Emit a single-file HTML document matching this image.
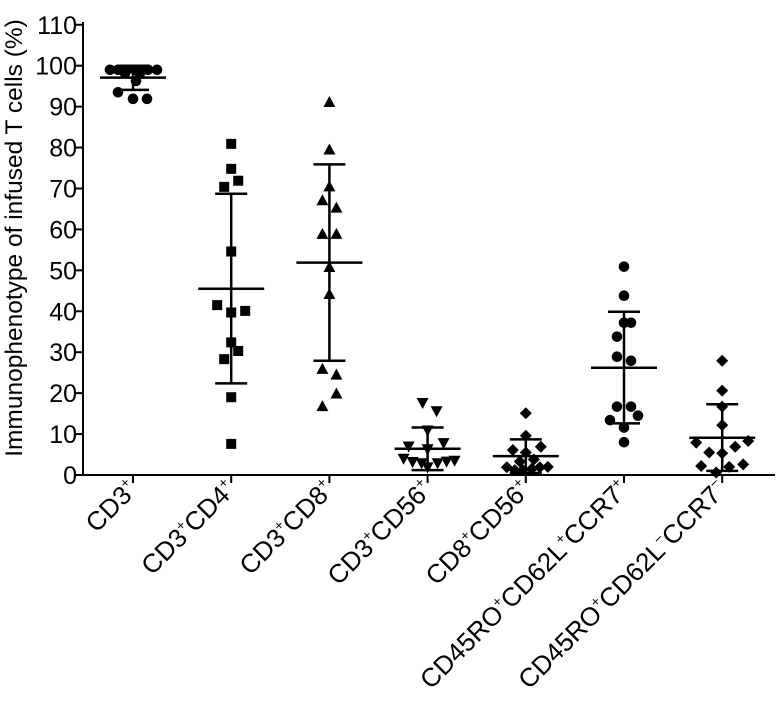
<!DOCTYPE html>
<html><head><meta charset="utf-8"><style>
body{margin:0;background:#fff}
svg text{font-family:"Liberation Sans",sans-serif;fill:#000}
</style></head><body>
<svg id="c" width="779" height="718" xmlns="http://www.w3.org/2000/svg"></svg>
<script>
const categories=["CD3","CD3CD4","CD3CD8","CD3CD56","CD8CD56","CD45RO+CD62L+CCR7+","CD45RO+CD62L-CCR7-"];
const yTicks=[0,10,20,30,40,50,60,70,80,90,100,110];
const s0=[99,99,99,99,99,99,99,98.2,98.2,96.3,93.5,91.9,91.9];
const j0=[-23,-15,-6,2,9,15,24,-8,7,3,-15,0,14];
const s1=[80.9,74.8,71.9,70.4,54.6,41.5,39.7,40.1,32.4,30.3,28.3,19,7.6];
const j1=[0,0,7,-7,0,-14,0,14,0,7,-7,0,0];
const s2=[91,79.4,70.4,67,65.2,58.8,58.8,50.7,44.1,25.8,24.4,19.8,16.7];
const j2=[0,0,0,-7,7,-7,7,0,0,-7,7,7,-7];
const s3=[17.7,15.7,11,7.1,7.9,6.4,4.1,3.3,3,2,3,3.4,3.6];
const j3=[-5,9,0,-19,16,0,-24,-15,-6,0,10,19,27];
const s4=[15.1,9.6,6.1,6.9,5.5,3.3,3.8,1.9,1.2,1.2,1.5,1.9,2.0];
const j4=[0,0,-13,15,0,-6,8,-19,-11,-3,6,14,22];
const s5=[50.9,43.8,37.2,37.2,33.8,28.9,27.9,16.7,16.7,13.4,14.5,11.6,8.0];
const j5=[0,0,0,7,-7,-7,7,-7,7,-14,14,0,0];
const s6=[27.9,20.6,16.7,12.2,7.9,8.3,5.5,5.3,6.9,2.2,2.0,2.6,0.6];
const j6=[0,0,0,0,-26,26,-13,0,13,-21,7,21,-6];
const means=[97.1,45.5,51.9,6.4,4.6,26.2,9.1];
const upper=[100,68.7,75.9,11.6,8.7,39.9,17.3];
const lower=[94.1,22.4,27.9,1.2,0.5,12.6,1.0];
const series=[s0,s1,s2,s3,s4,s5,s6], jit=[j0,j1,j2,j3,j4,j5,j6];
const shapes=["circle","square","tri","dtri","diamond","circle","diamond"];
const labels=[["CD3","+"],["CD3","+","CD4","+"],["CD3","+","CD8","+"],["CD3","+","CD56","+"],["CD8","+","CD56","+"],["CD45RO","+","CD62L","+","CCR7","+"],["CD45RO","+","CD62L","\u2212","CCR7","\u2212"]];
const X0=83,Y0=475,YS=4.093;
const y=v=>Y0-v*YS, x=i=>133+i*98.2;
const svg=document.getElementById('c'),NS="http://www.w3.org/2000/svg";
function mk(t,a,p){const e=document.createElementNS(NS,t);for(const k in a)e.setAttribute(k,a[k]);(p||svg).appendChild(e);return e;}
let e;
e=mk('line',{x1:X0,y1:22,x2:X0,y2:Y0+1,stroke:'#000','stroke-width':2});


e=mk('line',{x1:X0-1,y1:Y0,x2:775,y2:Y0,stroke:'#000','stroke-width':2});


yTicks.forEach(v=>{
 mk('line',{x1:X0-8,y1:y(v),x2:X0,y2:y(v),stroke:'#000','stroke-width':2});
 e=mk('text',{x:X0-6,y:y(v)+9,'text-anchor':'end','font-size':25});e.textContent=v;
 
 
});
e=mk('text',{transform:'translate(22,238) rotate(-90)','text-anchor':'middle','font-size':24.5});
e.textContent='Immunophenotype of infused T cells (%)';


categories.forEach((c,i)=>{
 const cx=x(i);
 mk('line',{x1:cx,y1:Y0,x2:cx,y2:Y0+8,stroke:'#000','stroke-width':2});
 const t=mk('text',{transform:`translate(${cx+6},${Y0+16}) rotate(-45)`,'text-anchor':'end','font-size':26});
 
 
 const parts=labels[i];
 parts.forEach((p,k)=>{const ts=mk('tspan',{},t);
  if(k%2===1){ts.setAttribute('font-size',14);ts.setAttribute('dy',-11);}else if(k>0){ts.setAttribute('dy',11);}
  ts.textContent=p;});
 const g=mk('g',{});
 
 
 mk('line',{x1:cx,y1:y(upper[i]),x2:cx,y2:y(lower[i]),stroke:'#000','stroke-width':2.5},g);
 mk('line',{x1:cx-33,y1:y(means[i]),x2:cx+33,y2:y(means[i]),stroke:'#000','stroke-width':2.5},g);
 mk('line',{x1:cx-16,y1:y(upper[i]),x2:cx+16,y2:y(upper[i]),stroke:'#000','stroke-width':2.5},g);
 mk('line',{x1:cx-16,y1:y(lower[i]),x2:cx+16,y2:y(lower[i]),stroke:'#000','stroke-width':2.5},g);
 series[i].forEach((v,k)=>{
  const px=cx+jit[i][k],py=y(v);let m;
  const sh=shapes[i];
  if(sh==='circle')m=mk('circle',{cx:px,cy:py,r:5.3},g);
  else if(sh==='square')m=mk('rect',{x:px-5,y:py-5,width:10,height:10},g);
  else if(sh==='tri')m=mk('polygon',{points:`${px},${py-6.5} ${px-6},${py+4.5} ${px+6},${py+4.5}`},g);
  else if(sh==='dtri')m=mk('polygon',{points:`${px},${py+6.5} ${px-6},${py-4.5} ${px+6},${py-4.5}`},g);
  else m=mk('polygon',{points:`${px},${py-6} ${px+6},${py} ${px},${py+6} ${px-6},${py}`},g);
  
  
 });
});
</script>
</body></html>
